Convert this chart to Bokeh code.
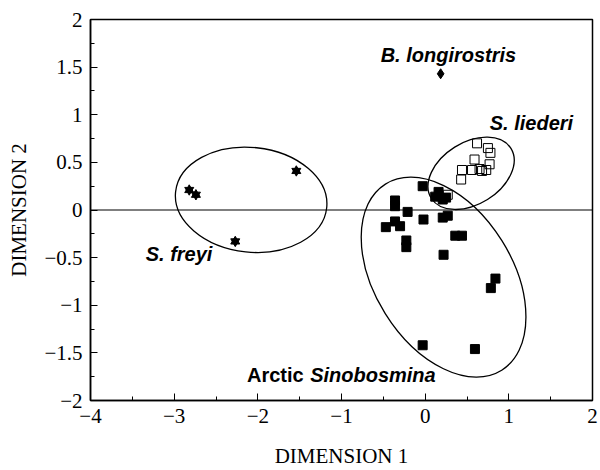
from bokeh.plotting import figure
from bokeh.models import FixedTicker, Span, CustomJSTickFormatter
from bokeh.core.properties import value
from bokeh.embed import file_html
from bokeh.resources import INLINE

# ---- data ----
arctic_x = [-0.03, 0.16, 0.12, 0.21, 0.25, -0.36, -0.36, -0.21, -0.02, 0.21, 0.27,
            -0.36, -0.47, -0.30, 0.36, 0.44, -0.225, -0.225, 0.22, 0.84, 0.785, -0.03, 0.595]
arctic_y = [0.25, 0.19, 0.14, 0.11, 0.13, 0.10, 0.04, -0.02, -0.10, -0.08, -0.06,
            -0.12, -0.18, -0.17, -0.27, -0.27, -0.32, -0.39, -0.47, -0.72, -0.82, -1.42, -1.46]

liederi_x = [0.62, 0.75, 0.78, 0.59, 0.77, 0.44, 0.56, 0.65, 0.68, 0.73, 0.43, 0.27]
liederi_y = [0.70, 0.65, 0.60, 0.53, 0.48, 0.42, 0.42, 0.43, 0.41, 0.42, 0.32, 0.16]

freyi_x = [-2.82, -2.74, -1.54, -2.27]
freyi_y = [0.21, 0.16, 0.41, -0.33]

longi_x = [0.185]
longi_y = [1.43]

# confidence ellipses: center x, center y, width (x units), height (y units), angle (deg)
ell_x = [-2.08, 0.549, 0.22]
ell_y = [0.107, 0.385, -0.705]
ell_w = [1.816, 1.123, 1.644]
ell_h = [1.10, 0.65, 2.304]
ell_a = [-6, 32, 32]

lab_x = [-0.532, 0.772, -3.34]
lab_y = [1.632, 0.91, -0.46]
lab_text = ["B. longirostris", "S. liederi", "S. freyi"]

x_ticks = [-4, -3, -2, -1, 0, 1, 2]
x_minor = [-3.5, -2.5, -1.5, -0.5, 0.5, 1.5]
y_ticks = [-2, -1.5, -1, -0.5, 0, 0.5, 1, 1.5, 2]
y_minor = [-1.75, -1.25, -0.75, -0.25, 0.25, 0.75, 1.25, 1.75]

SERIF = "Liberation Serif"

p = figure(width=600, height=470, x_range=(-4, 2), y_range=(-2, 2),
           output_backend="svg", toolbar_location=None,
           min_border_left=90, min_border_top=19, min_border_right=8, min_border_bottom=69)
p.grid.visible = False
p.outline_line_color = "black"
p.outline_line_width = 1.5
p.background_fill_color = "white"
p.border_fill_color = "white"

fmt = CustomJSTickFormatter(code="return tick < 0 ? '\\u2212' + String(-tick) : String(tick);")
for ax, tk, mn in ((p.xaxis[0], x_ticks, x_minor), (p.yaxis[0], y_ticks, y_minor)):
    ax.ticker = FixedTicker(ticks=tk, minor_ticks=mn)
    ax.formatter = fmt
    ax.major_tick_in = 7
    ax.major_tick_out = 0
    ax.minor_tick_in = 4
    ax.minor_tick_out = 0
    ax.axis_line_color = "black"
    ax.axis_line_width = 1.5
    ax.major_label_standoff = 8
    ax.major_label_text_font = SERIF
    ax.major_label_text_font_size = "21px"
    ax.major_label_text_color = "black"
    ax.axis_label_text_font = SERIF
    ax.axis_label_text_font_size = "21px"
    ax.axis_label_text_font_style = "normal"
    ax.axis_label_text_color = "black"

p.xaxis.axis_label = "DIMENSION 1"
p.yaxis.axis_label = "DIMENSION 2"
p.xaxis.axis_label_standoff = 18
p.yaxis.axis_label_standoff = 10

p.add_layout(Span(location=0, dimension="width", line_color="black", line_width=1.2))

p.ellipse(x=ell_x, y=ell_y, width=ell_w, height=ell_h, angle=ell_a, angle_units="deg",
          fill_color=None, line_color="black", line_width=1.3)

p.scatter(arctic_x, arctic_y, marker="square", size=9, color="black")
p.scatter(liederi_x, liederi_y, marker="square", size=9, fill_color=None,
          line_color="black", line_width=1)
p.scatter(freyi_x, freyi_y, marker="triangle", size=9, color="black")
p.scatter(freyi_x, freyi_y, marker="inverted_triangle", size=9, color="black")
p.scatter(longi_x, longi_y, marker="diamond", size=10, color="black")

p.text(x=lab_x, y=lab_y, text=lab_text, text_font=value("Liberation Sans"),
       text_font_style="bold italic", text_font_size="20px", text_baseline="middle",
       text_align="left", text_color="black")
p.text(x=[-2.13], y=[-1.73], text=["Arctic"], text_font=value("Liberation Sans"),
       text_font_style="bold", text_font_size="20px", text_baseline="middle",
       text_align="left", text_color="black")
p.text(x=[0.126], y=[-1.73], text=["Sinobosmina"], text_font=value("Liberation Sans"),
       text_font_style="bold italic", text_font_size="20px", text_baseline="middle",
       text_align="right", text_color="black")

open("out.html", "w").write(file_html(p, INLINE))
